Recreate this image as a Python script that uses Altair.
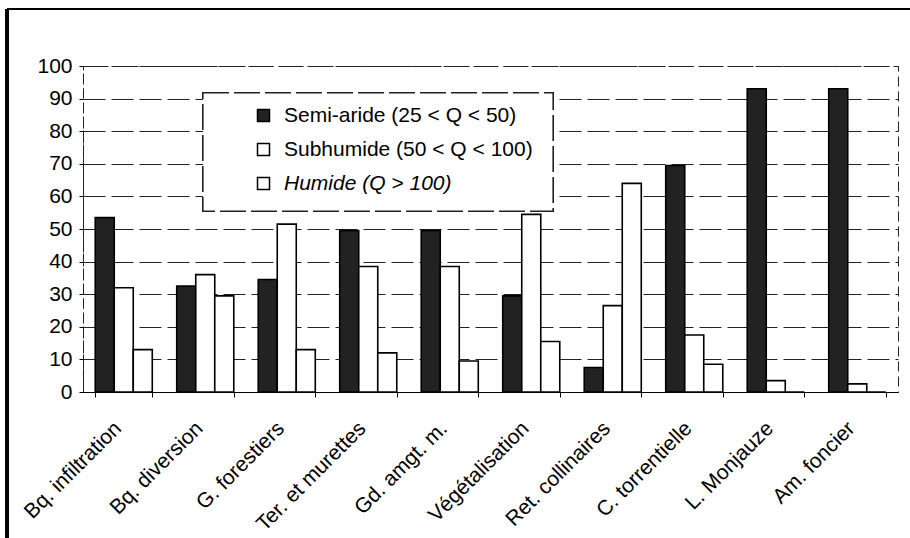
import altair as alt
import pandas as pd

# Aménagements et proportion (%) par zone bioclimatique
categories = [
    "Bq. infiltration", "Bq. diversion", "G. forestiers", "Ter. et murettes",
    "Gd. amgt. m.", "Végétalisation", "Ret. collinaires", "C. torrentielle",
    "L. Monjauze", "Am. foncier",
]
series = ["Semi-aride (25 < Q < 50)", "Subhumide (50 < Q < 100)", "Humide (Q > 100)"]
semi_aride = [53.5, 32.5, 34.5, 49.5, 49.5, 29.5, 7.5, 69.5, 93, 93]
subhumide = [32, 36, 51.5, 38.5, 38.5, 54.5, 26.5, 17.5, 3.5, 2.5]
humide = [13, 29.5, 13, 12, 9.5, 15.5, 64, 8.5, 0, 0]
y_ticks = list(range(0, 101, 10))

rows = []
for s, vals in zip(series, [semi_aride, subhumide, humide]):
    for c, v in zip(categories, vals):
        rows.append({"cat": c, "serie": s, "val": v})
df = pd.DataFrame(rows)

FONT = "Liberation Sans"
FS = 21
W, H = 815, 326

bars = alt.Chart(df).mark_bar(stroke="black", strokeWidth=1.6).encode(
    x=alt.X("cat:N", sort=categories, title=None,
            scale=alt.Scale(paddingInner=0.3, paddingOuter=0.15),
            axis=alt.Axis(labelAngle=-45, labelAlign="right", labelBaseline="middle",
                          labelFont=FONT, labelFontSize=FS, labelColor="black",
                          labelPadding=28, labelOffset=-6, tickBand="extent", tickSize=5,
                          tickColor="black", domainColor="black", grid=False,
                          labelLimit=300)),
    xOffset=alt.XOffset("serie:N", sort=series, scale=alt.Scale(paddingInner=0, paddingOuter=0)),
    y=alt.Y("val:Q", title=None,
            scale=alt.Scale(domain=[0, 100], nice=False),
            axis=alt.Axis(values=y_ticks, labelFont=FONT, labelFontSize=FS,
                          labelColor="black", labelPadding=7, tickSize=4,
                          tickColor="black", domain=True, domainColor="#222",
                          domainDash=[10, 4], grid=True, gridColor="#222",
                          gridDash=[22, 6], gridWidth=1)),
    fill=alt.Fill("serie:N", sort=series,
                  scale=alt.Scale(domain=series, range=["#222222", "white", "white"]),
                  legend=alt.Legend(
                      title=None, orient="none", legendX=170, legendY=39,
                      symbolType="square", symbolSize=144, symbolStrokeColor="black",
                      symbolStrokeWidth=1.5, labelFont=FONT, labelFontSize=FS,
                      labelColor="black", labelOffset=10, rowPadding=12,
                      labelLimit=400, padding=0,
                      labelFontStyle={"expr": "datum.label == 'Humide (Q > 100)' ? 'italic' : 'normal'"},
                  )),
)

# legend frame (white box over the gridlines)
legend_box = alt.Chart(df).mark_rect(fill="white", stroke="#222", strokeWidth=1.2,
                                     strokeDash=[26, 5]).encode(
    x=alt.value(120), x2=alt.value(470), y=alt.value(27), y2=alt.value(145)
)

# outer frame lines (top and left)
frame_top = alt.Chart(df).mark_rule(color="black", strokeWidth=2, clip=False).encode(
    x=alt.value(-76), x2=alt.value(827), y=alt.value(-57)
)
frame_left = alt.Chart(df).mark_rule(color="black", strokeWidth=2.5, clip=False).encode(
    x=alt.value(-76), y=alt.value(-57), y2=alt.value(480)
)

chart = alt.layer(legend_box, bars, frame_top, frame_left).properties(
    width=W, height=H,
    autosize=alt.AutoSizeParams(type="none"),
    padding={"left": 83, "top": 66, "right": 12, "bottom": 146},
    background="white",
).configure_view(stroke="#222", strokeDash=[10, 5], strokeWidth=1)

chart.save("out.html", embed_options={"renderer": "svg", "actions": False})
